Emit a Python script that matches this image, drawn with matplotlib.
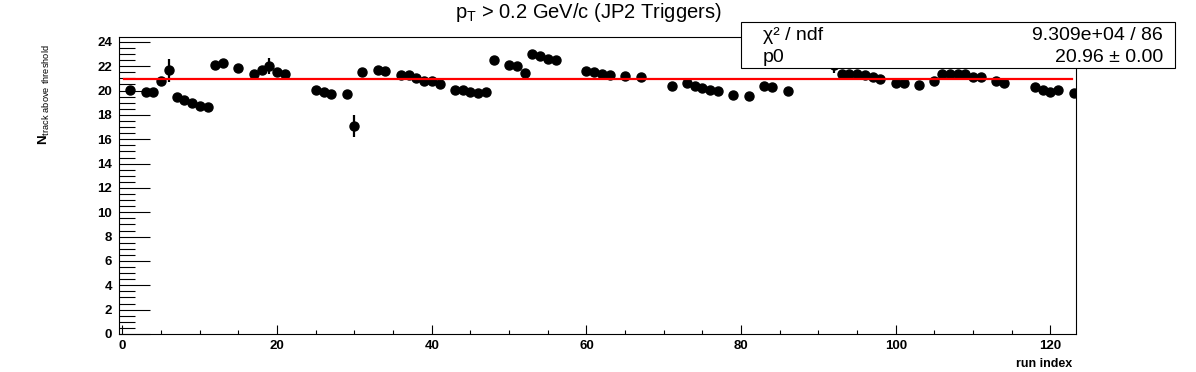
import numpy as np
import matplotlib.pyplot as plt
from matplotlib.patches import Rectangle
from matplotlib.ticker import MultipleLocator

plt.rcParams['font.family'] = ['Liberation Sans', 'DejaVu Sans']
plt.rcParams['mathtext.fontset'] = 'custom'
plt.rcParams['mathtext.rm'] = 'Liberation Sans'
plt.rcParams['mathtext.bf'] = 'Liberation Sans:bold'

# run index and mean number of tracks above threshold
run_idx = [1, 3, 4, 5, 6, 7, 8, 9, 10, 11, 12, 13, 15, 17, 18, 19, 20, 21,
           25, 26, 27, 29, 30, 31, 33, 34, 36, 37, 38, 39, 40, 41,
           43, 44, 45, 46, 47, 48, 50, 51, 52, 53, 54, 55, 56,
           60, 61, 62, 63, 65, 67, 71, 73, 74, 75, 76, 77, 79, 81, 83, 84, 86,
           92, 93, 94, 95, 96, 97, 98, 100, 101, 103, 105, 106, 107, 108, 109,
           110, 111, 113, 114, 118, 119, 120, 121, 123]
n_track = [20.05, 19.9, 19.9, 20.8, 21.67, 19.48, 19.2, 18.96, 18.72, 18.63, 22.08, 22.25, 21.87, 21.37, 21.7, 22.03, 21.5, 21.4,
           20.03, 19.89, 19.7, 19.7, 17.1, 21.54, 21.67, 21.6, 21.26, 21.24, 21.04, 20.82, 20.8, 20.55,
           20.03, 20.03, 19.87, 19.78, 19.87, 22.5, 22.08, 22.0, 21.48, 23.04, 22.82, 22.63, 22.47,
           21.6, 21.5, 21.37, 21.29, 21.23, 21.1, 20.36, 20.6, 20.36, 20.19, 20.06, 19.95, 19.65, 19.55, 20.39, 20.3, 19.95,
           22.1, 21.4, 21.4, 21.4, 21.3, 21.15, 20.93, 20.66, 20.6, 20.44, 20.77, 21.4, 21.4, 21.4, 21.35,
           21.12, 21.12, 20.82, 20.66, 20.3, 20.03, 19.92, 20.03, 19.81]
n_err = [0.0] * len(run_idx)
n_err[run_idx.index(6)] = 0.96
n_err[run_idx.index(19)] = 0.66
n_err[run_idx.index(30)] = 0.92
n_err[run_idx.index(92)] = 0.65

p0 = 20.96
fit_range = [0.25, 122.75]

fig = plt.figure(figsize=(11.96, 3.72), dpi=100)
ax = fig.add_axes([119 / 1196, 38 / 372, (1076 - 119) / 1196, 297 / 372])

ax.errorbar(run_idx, n_track, yerr=n_err, fmt='o', color='black', ms=6.5,
            elinewidth=1.6, capsize=0, zorder=3)
ax.plot(fit_range, [p0, p0], color='red', lw=1.6, zorder=4)

ax.set_xlim(-0.45, 123.3)
ax.set_ylim(0, 24.4)
ax.xaxis.set_major_locator(MultipleLocator(20))
ax.xaxis.set_minor_locator(MultipleLocator(5))
ax.yaxis.set_major_locator(MultipleLocator(2))
ax.yaxis.set_minor_locator(MultipleLocator(0.5))
ax.tick_params(axis='y', which='major', direction='in', length=22, width=0.8, pad=5)
ax.tick_params(axis='y', which='minor', direction='in', length=11.5, width=0.8)
ax.tick_params(axis='x', which='major', direction='in', length=6.5, width=0.8, pad=4)
ax.tick_params(axis='x', which='minor', direction='in', length=3.2, width=0.8)
for lab in ax.get_xticklabels() + ax.get_yticklabels():
    lab.set_fontweight('bold')
    lab.set_fontsize(9.5)
for s in ax.spines.values():
    s.set_linewidth(0.8)

fig.text(588 / 1196, 1 - 13 / 372, r'$\mathrm{p}_{\mathrm{T}}$ > 0.2 GeV/c (JP2 Triggers)',
         ha='center', va='center', fontsize=14.5)
fig.text(1072 / 1196, 1 - 364 / 372, 'run index', ha='right', va='center',
         fontsize=9, fontweight='bold')
fig.text(44 / 1196, 1 - 44 / 372, r'$\mathbf{N}_{\mathrm{track\ above\ threshold}}$',
         ha='center', va='top', rotation=90, fontsize=9.5)

# stats box
fig.add_artist(Rectangle((741 / 1196, 1 - 68 / 372), 434 / 1196, 46 / 372,
                         transform=fig.transFigure, facecolor='white',
                         edgecolor='black', lw=0.8, zorder=5))
fig.text(763 / 1196, 1 - 35 / 372, 'χ² / ndf', ha='left', va='center', fontsize=14, zorder=6)
fig.text(1163 / 1196, 1 - 35 / 372, '9.309e+04 / 86', ha='right', va='center', fontsize=14, zorder=6)
fig.text(763 / 1196, 1 - 57 / 372, 'p0', ha='left', va='center', fontsize=14, zorder=6)
fig.text(1163 / 1196, 1 - 57 / 372, '20.96 ± 0.00', ha='right', va='center', fontsize=14, zorder=6)

fig.savefig('out.png', dpi=100)
